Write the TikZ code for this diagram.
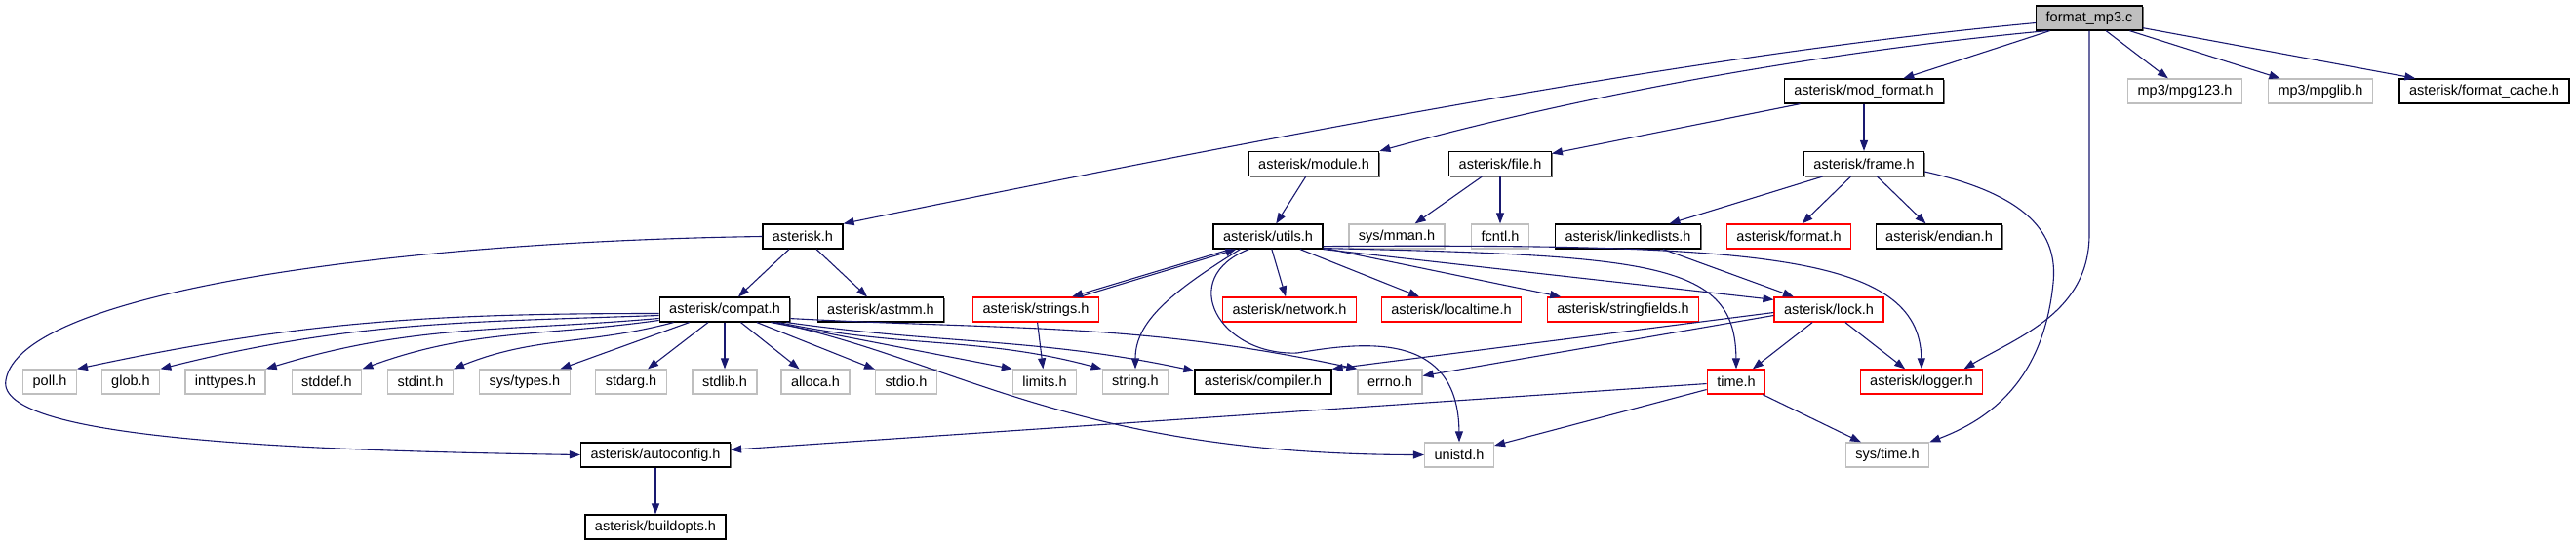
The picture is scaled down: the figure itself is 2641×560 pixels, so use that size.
\documentclass[tikz,border=0pt]{standalone}
\usepackage{fontspec}
\setmainfont{Liberation Sans}
\usepackage{tikz}
\usetikzlibrary{arrows.meta, shadows}
\definecolor{edgeblue}{RGB}{25, 25, 112}
\definecolor{sysgray}{RGB}{191, 191, 191}
\definecolor{incred}{RGB}{255, 0, 0}

\begin{document}
\begin{tikzpicture}[
    x=1pt, y=-1pt,
    box/.style={rectangle, fill=white, minimum height=25pt,
                inner xsep=10pt, inner ysep=0pt, text=black,
                font=\fontsize{14.5}{17}\selectfont},
    docbox/.style={box, draw=black, line width=1.2pt,
                   drop shadow={shadow xshift=1.3pt, shadow yshift=-1.3pt,
                                fill=black!55, opacity=1}},
    redbox/.style={box, draw=incred, line width=1.3pt},
    sysbox/.style={box, draw=sysgray, line width=1.3pt},
    rootbox/.style={docbox, fill=sysgray},
    arr/.style={-{Triangle[length=11pt, width=8pt]}, line width=1.1pt, edgeblue},
  ]
    \useasboundingbox (0,0) rectangle (2641,560);

    \node[rootbox] (root) at (2142,18.5) {format\_mp3.c};

    \node[docbox] (modformat) at (1911,93.5) {asterisk/mod\_format.h};
    \node[sysbox] (mpg123) at (2240,93.5) {mp3/mpg123.h};
    \node[sysbox] (mpglib) at (2379,93.5) {mp3/mpglib.h};
    \node[docbox] (fcache) at (2547,93.5) {asterisk/format\_cache.h};

    \node[docbox] (module) at (1347,168) {asterisk/module.h};
    \node[docbox] (file) at (1538,168) {asterisk/file.h};
    \node[docbox] (frame) at (1911,168) {asterisk/frame.h};

    \node[docbox] (asterisk) at (823,242.5) {asterisk.h};
    \node[docbox] (utils) at (1300,242.5) {asterisk/utils.h};
    \node[sysbox] (mman) at (1432,242.5) {sys/mman.h};
    \node[sysbox] (fcntl) at (1538,242.5) {fcntl.h};
    \node[docbox] (llists) at (1669,242.5) {asterisk/linkedlists.h};
    \node[redbox] (format) at (1834,242.5) {asterisk/format.h};
    \node[docbox] (endian) at (1988,242.5) {asterisk/endian.h};

    \node[docbox] (compat) at (743,317.5) {asterisk/compat.h};
    \node[docbox] (astmm) at (903,317.5) {asterisk/astmm.h};
    \node[redbox] (strings) at (1062,317.5) {asterisk/strings.h};
    \node[redbox] (network) at (1322,317.5) {asterisk/network.h};
    \node[redbox] (localtime) at (1488,317.5) {asterisk/localtime.h};
    \node[redbox] (sfields) at (1664,317.5) {asterisk/stringfields.h};
    \node[redbox] (lock) at (1875,317.5) {asterisk/lock.h};

    \node[sysbox] (poll) at (51,391.5) {poll.h};
    \node[sysbox] (glob) at (134,391.5) {glob.h};
    \node[sysbox] (inttypes) at (231,391.5) {inttypes.h};
    \node[sysbox] (stddef) at (335,391.5) {stddef.h};
    \node[sysbox] (stdint) at (431,391.5) {stdint.h};
    \node[sysbox] (systypes) at (538,391.5) {sys/types.h};
    \node[sysbox] (stdarg) at (647,391.5) {stdarg.h};
    \node[sysbox] (stdlib) at (743,391.5) {stdlib.h};
    \node[sysbox] (alloca) at (836,391.5) {alloca.h};
    \node[sysbox] (stdio) at (929,391.5) {stdio.h};
    \node[sysbox] (limits) at (1071,391.5) {limits.h};
    \node[sysbox] (string) at (1164,391.5) {string.h};
    \node[docbox] (compiler) at (1295,391.5) {asterisk/compiler.h};
    \node[sysbox] (errno) at (1425,391.5) {errno.h};
    \node[redbox] (time) at (1780,391.5) {time.h};
    \node[redbox] (logger) at (1970,391.5) {asterisk/logger.h};

    \node[docbox] (autoconfig) at (672,466.5) {asterisk/autoconfig.h};
    \node[sysbox] (unistd) at (1496,466.5) {unistd.h};
    \node[sysbox] (systime) at (1935,466.5) {sys/time.h};

    \node[docbox] (buildopts) at (672,540.5) {asterisk/buildopts.h};

    \coordinate (logbend) at (2142,240);

    \draw[arr] ([yshift=-5pt]root.west) .. controls (1750,55) and (1350,130) .. (asterisk.north east);
    \draw[arr] ([xshift=12pt]root.south west) .. controls (1900,50) and (1650,90) .. (module.north east);
    \draw[arr] (root) -- (modformat);
    \draw[arr] (root.south) -- (logbend) .. controls (2142,320) and (2070,345) .. ([xshift=-20pt]logger.north east);
    \draw[arr] (root) -- (mpg123);
    \draw[arr] (root) -- (mpglib);
    \draw[arr] (root) -- (fcache);

    \draw[arr] (modformat) -- (file);
    \draw[arr] (modformat) -- (frame);
    \draw[arr] (module) -- (utils);
    \draw[arr] (file) -- (mman);
    \draw[arr] (file) -- (fcntl);
    \draw[arr] (frame) -- (llists);
    \draw[arr] (frame) -- (format);
    \draw[arr] (frame) -- (endian);
    \draw[arr] ([yshift=-8pt]frame.east) .. controls (2080,200) and (2110,240) .. (2105,290)
        .. controls (2095,390) and (2040,430) .. (systime.north east);

    \draw[arr] (asterisk) -- (compat);
    \draw[arr] (asterisk) -- (astmm);
    \draw[arr] (asterisk.west) .. controls (400,248) and (20,300) .. (6,390)
        .. controls (-5,450) and (300,462) .. (autoconfig.west);

    \draw[arr] ([yshift=-4pt]compat.west) to[out=180, in=12] (poll.north east);
    \draw[arr] ([yshift=-6pt]compat.west) to[out=182, in=14] (glob.north east);
    \draw[arr] ([yshift=-9pt]compat.west) to[out=185, in=17] (inttypes.north east);
    \draw[arr] ([yshift=-11pt]compat.west) to[out=188, in=20] (stddef.north east);
    \draw[arr] ([xshift=15pt]compat.south west) to[out=195, in=22] (stdint.north east);
    \draw[arr] (compat) -- (systypes);
    \draw[arr] (compat) -- (stdarg);
    \draw[arr] (compat) -- (stdlib);
    \draw[arr] (compat) -- (alloca);
    \draw[arr] (compat) -- (stdio);
    \draw[arr] ([xshift=-20pt]compat.south east) -- (limits.north west);
    \draw[arr] ([xshift=-12pt]compat.south east) to[out=-12, in=165] (string.north west);
    \draw[arr] ([xshift=-4pt]compat.south east) to[out=-8, in=168] ([yshift=-2pt]compiler.north west);
    \draw[arr] ([yshift=4pt]compat.south east) to[out=-3, in=168] (errno.north west);
    \draw[arr] ([xshift=-16pt]compat.south east) .. controls (980,370) and (1100,466) .. (unistd.west);

    \draw[arr] ([xshift=18pt]utils.south west) -- ([xshift=-28pt]strings.north east);
    \draw[arr] ([xshift=-20pt]strings.north east) -- ([xshift=24pt]utils.south west);
    \draw[arr] ([xshift=28pt]utils.south west) .. controls (1200,300) and (1164,330) .. (string.north);
    \draw[arr] ([xshift=37pt]utils.south west) .. controls (1205,285) and (1250,365) .. (1330,362)
        .. controls (1400,350) and (1495,340) .. (unistd.north);
    \draw[arr] (utils) -- (network);
    \draw[arr] (utils) -- (localtime);
    \draw[arr] (utils) -- (sfields);
    \draw[arr] (utils.south east) -- ([yshift=-3pt]lock.north west);
    \draw[arr] ([yshift=1pt]utils.south east) .. controls (1700,262) and (1779,270) .. (time.north);
    \draw[arr] ([yshift=3pt]utils.south east) .. controls (1800,250) and (1968,260) .. (logger.north);

    \draw[arr] (strings) -- (limits);
    \draw[arr] (llists) -- (lock);
    \draw[arr] (lock) -- (time);
    \draw[arr] (lock) -- (logger);
    \draw[arr] ([yshift=-3pt]lock.west) -- (compiler.north east);
    \draw[arr] ([yshift=-6pt]lock.west) -- ([yshift=6pt]errno.east);
    \draw[arr] (time) -- (autoconfig);
    \draw[arr] (time) -- (unistd);
    \draw[arr] (time) -- (systime);
    \draw[arr] (autoconfig) -- (buildopts);
\end{tikzpicture}
\end{document}
